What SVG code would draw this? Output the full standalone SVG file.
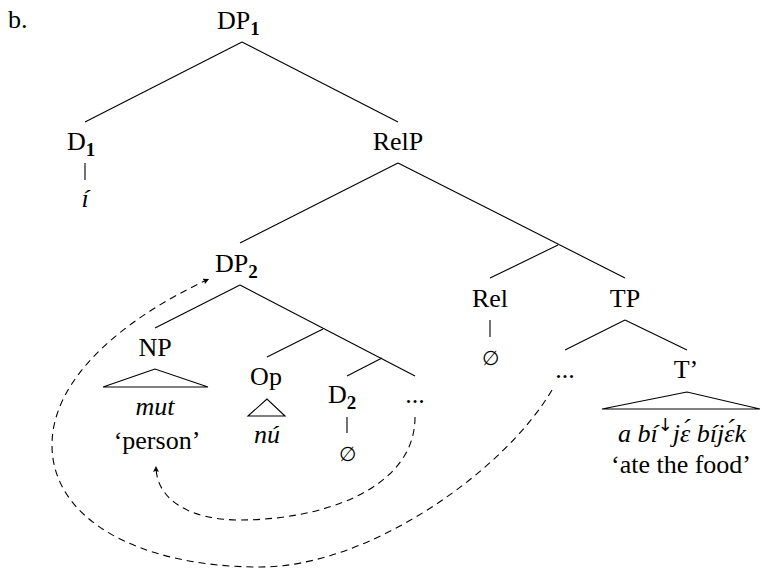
<svg xmlns="http://www.w3.org/2000/svg" width="762" height="568" viewBox="0 0 762 568">
<style>
.t{font-family:'Liberation Serif','Times New Roman',serif;font-size:26px;fill:#000}
.m{text-anchor:middle}
.i{font-style:italic}
.sub{font-size:19px;font-weight:bold}
.e{font-family:'DejaVu Serif','Liberation Serif',serif;font-size:20px}
.ln{stroke:#000;stroke-width:1.1;fill:none}
.tri{stroke:#000;stroke-width:1.1;fill:none;stroke-linejoin:miter}
.mv{stroke:#000;stroke-width:1.1;fill:none;stroke-dasharray:7 5}
</style>
<defs>
<marker id="ah" markerUnits="userSpaceOnUse" markerWidth="8" markerHeight="8" refX="6" refY="3" orient="auto">
<path d="M0,0 L6,3 L0,6 L1.2,3 z" fill="#000"/>
</marker>
</defs>
<g font-family="Liberation Serif, serif">
<text class="t" x="8" y="28">b.</text>
<g id="connectors">
<line class="ln" x1="242" y1="42" x2="85" y2="122"/>
<line class="ln" x1="242" y1="42" x2="398" y2="122"/>
<line class="ln" x1="85" y1="163" x2="85" y2="180"/>
<line class="ln" x1="398" y1="163" x2="240" y2="243"/>
<line class="ln" x1="398" y1="163" x2="625" y2="278"/>
<line class="ln" x1="558" y1="245" x2="490" y2="278"/>
<line class="ln" x1="240" y1="285" x2="155" y2="328"/>
<line class="ln" x1="240" y1="285" x2="415" y2="376"/>
<line class="ln" x1="323" y1="329" x2="267" y2="357"/>
<line class="ln" x1="382" y1="358" x2="347" y2="376"/>
<line class="ln" x1="347" y1="417" x2="347" y2="433"/>
<line class="ln" x1="490" y1="320" x2="490" y2="337"/>
<line class="ln" x1="625" y1="320" x2="565" y2="350"/>
<line class="ln" x1="625" y1="320" x2="687" y2="350"/>
<path class="mv" marker-end="url(#ah)" d="M415 417 C415 490 320 520 240 520 C190 520 156 500 156 466"/>
<path class="mv" marker-end="url(#ah)" d="M552 390 C505 470 370 567 260 567 C140 567 52 520 52 445 C52 380 120 320 209 279"/>
</g>
<g id="DP1"><text class="t" x="217" y="29">DP<tspan class="sub" dy="6">1</tspan></text></g>
<g id="D1"><text class="t" x="67" y="150">D<tspan class="sub" dy="6">1</tspan></text></g>
<g id="i"><text class="t m i" x="85" y="207">í</text></g>
<g id="RelP"><text class="t m" x="398" y="150">RelP</text></g>
<g id="DP2"><text class="t" x="215" y="272">DP<tspan class="sub" dy="6">2</tspan></text></g>
<g id="NP">
<text class="t m" x="155" y="356">NP</text>
<polygon class="tri" points="155,369 103,387 208,387"/>
<text class="t m i" x="155" y="415">mut</text>
<text class="t m" x="157" y="449">‘person’</text>
</g>
<g id="Op">
<text class="t m" x="266" y="385">Op</text>
<polygon class="tri" points="267,399 248,416 285,416"/>
<text class="t m i" x="267" y="443">nú</text>
</g>
<g id="D2"><text class="t" x="328" y="403">D<tspan class="sub" dy="6">2</tspan></text></g>
<g id="null2"><text class="t m e" x="347" y="461">∅</text></g>
<g id="dots1"><text class="t m" x="415" y="403">...</text></g>
<g id="Rel"><text class="t m" x="490" y="307">Rel</text></g>
<g id="null1"><text class="t m e" x="490" y="365">∅</text></g>
<g id="TP"><text class="t m" x="625" y="307">TP</text></g>
<g id="dots2"><text class="t m" x="565" y="378">...</text></g>
<g id="Tbar">
<text class="t m" x="686" y="378">T’</text>
<polygon class="tri" points="687,392 602,409 760,409"/>
<text class="t m i" x="682" y="442">a bí<tspan font-size="18" font-style="normal" font-family="DejaVu Sans, sans-serif" dy="-11">↓</tspan><tspan dy="11">jɛ́ bíjɛ́k</tspan></text>
<text class="t m" x="681" y="473">‘ate the food’</text>
</g>
</g>
</svg>
